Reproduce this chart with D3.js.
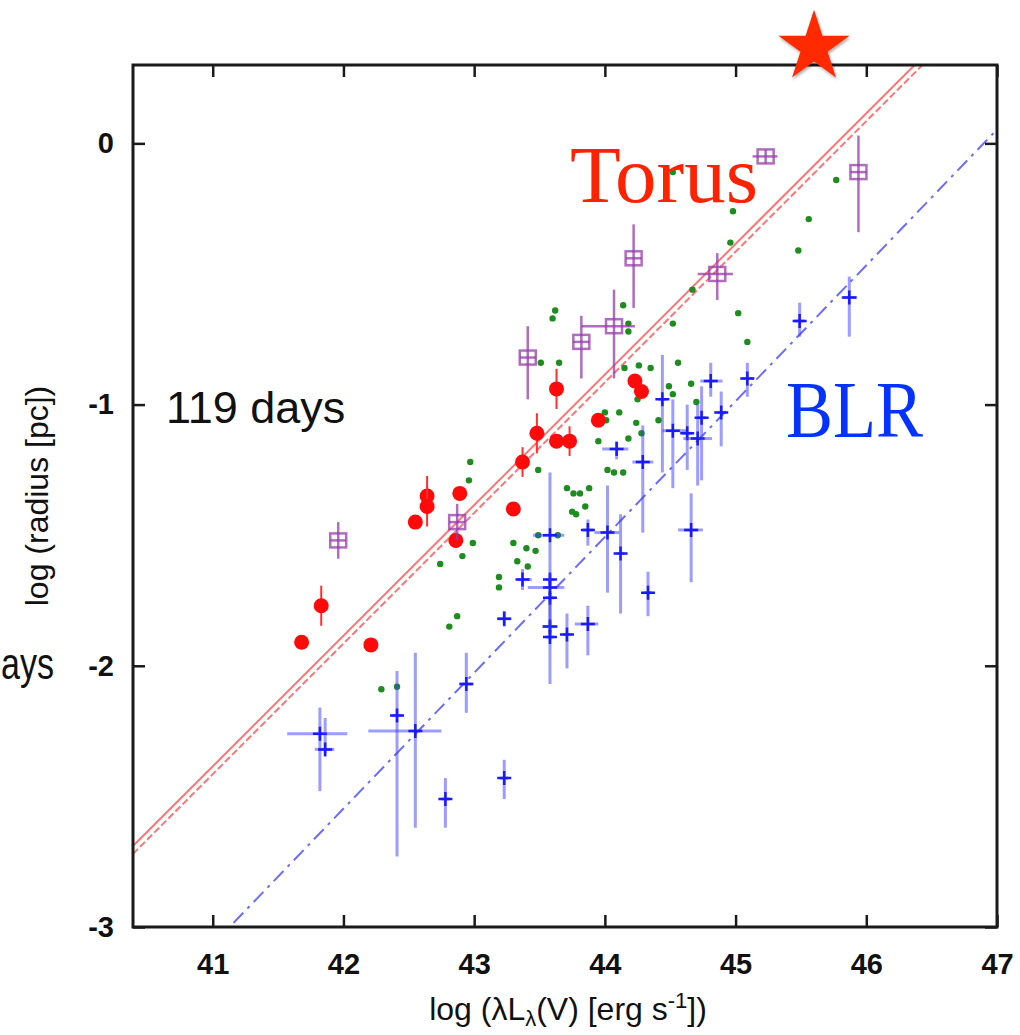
<!DOCTYPE html>
<html>
<head>
<meta charset="utf-8">
<script src="https://cdn.jsdelivr.net/npm/d3@7"></script>
<style>
  body { margin: 0; background: #fff; }
</style>
</head>
<body>
<div class="chart"></div>
<script>
// tick values
const xTicks = [41, 42, 43, 44, 45, 46, 47]
const yTicks = [0, -1, -2, -3]

// green dots: [log L, log R]
const dustDots = [
  [44.52, -0.11], [44.98, -0.26], [44.96, -0.38], [44.67, -0.56], [45.56, -0.29],
  [45.48, -0.41], [45.77, -0.14], [45.02, -0.65], [45.09, -0.76], [44.52, -0.69],
  [44.14, -0.62], [43.62, -0.64], [43.60, -0.67], [44.18, -0.69], [44.18, -0.72],
  [43.51, -0.84], [43.65, -0.84], [44.15, -0.86], [44.26, -0.85], [44.35, -0.86],
  [44.56, -0.84], [44.49, -0.93], [44.52, -0.96], [44.66, -0.92], [44.70, -0.99],
  [44.30, -0.96], [44.25, -0.98], [44.11, -1.03], [44.00, -1.03], [44.01, -1.06],
  [44.41, -1.06], [44.24, -1.07], [44.28, -1.11], [44.18, -1.13], [43.95, -1.14],
  [43.49, -1.25], [44.02, -1.25], [44.07, -1.26], [44.14, -1.26], [43.71, -1.32],
  [43.76, -1.34], [43.81, -1.34], [43.88, -1.32], [43.75, -1.41], [43.78, -1.42],
  [43.85, -1.39], [43.49, -1.50], [43.64, -1.50], [43.30, -1.53], [43.40, -1.55],
  [43.47, -1.56], [43.33, -1.60], [43.41, -1.62], [43.19, -1.66], [43.19, -1.70],
  [42.97, -1.22], [42.96, -1.29], [42.99, -1.53], [42.91, -1.58], [42.74, -1.61],
  [42.87, -1.81], [42.81, -1.85], [42.29, -2.09], [42.41, -2.08]
]

// red circles: [log L, log R, error]
const torusPts = [
  [41.68, -1.91, 0], [41.83, -1.77, 0.05], [42.21, -1.92, 0], [42.55, -1.45, 0],
  [42.64, -1.35, 0.05], [42.64, -1.39, 0.05], [42.89, -1.34, 0], [42.86, -1.52, 0],
  [43.30, -1.40, 0], [43.37, -1.22, 0.03], [43.48, -1.11, 0.05], [43.63, -1.14, 0],
  [43.73, -1.14, 0.03], [43.63, -0.94, 0.05], [43.95, -1.06, 0], [44.23, -0.91, 0],
  [44.28, -0.95, 0]
]

// purple squares: [log L, log R, xLo, xHi, yLo, yHi]
const torusNew = [
  [41.96, -1.52, 41.96, 41.96, -1.59, -1.45],
  [42.87, -1.45, 42.87, 42.87, -1.52, -1.38],
  [43.41, -0.82, 43.41, 43.41, -0.98, -0.70],
  [43.82, -0.76, 43.82, 43.82, -0.90, -0.66],
  [44.07, -0.70, 43.82, 44.23, -0.90, -0.56],
  [44.22, -0.44, 44.22, 44.22, -0.63, -0.31],
  [44.86, -0.50, 44.71, 44.98, -0.60, -0.42],
  [45.23, -0.05, 45.13, 45.32, -0.05, -0.05],
  [45.94, -0.11, 45.94, 45.94, -0.34, 0.03]
]

// blue crosses (BLR): [log L, log R, xLo, xHi, yLo, yHi]
const blrPts = [
  [41.82, -2.26, 41.57, 42.03, -2.48, -2.16],
  [41.86, -2.32, 41.78, 41.93, -2.34, -2.20],
  [42.41, -2.19, 42.37, 42.45, -2.73, -2.02],
  [42.55, -2.25, 42.19, 42.75, -2.62, -1.95],
  [42.78, -2.51, 42.75, 42.81, -2.62, -2.43],
  [42.94, -2.07, 42.89, 42.99, -2.18, -1.95],
  [43.23, -2.43, 43.20, 43.26, -2.51, -2.36],
  [43.23, -1.82, 43.18, 43.28, -1.85, -1.79],
  [43.37, -1.67, 43.33, 43.44, -1.71, -1.63],
  [43.58, -1.50, 43.45, 43.69, -1.60, -1.26],
  [43.58, -1.67, 43.55, 43.61, -1.69, -1.65],
  [43.58, -1.70, 43.41, 43.69, -1.90, -1.60],
  [43.58, -1.74, 43.55, 43.61, -1.76, -1.72],
  [43.58, -1.85, 43.52, 43.64, -1.87, -1.83],
  [43.58, -1.89, 43.55, 43.61, -2.07, -1.75],
  [43.87, -1.48, 43.83, 43.91, -1.54, -1.44],
  [44.02, -1.49, 43.92, 44.11, -1.72, -1.31],
  [44.12, -1.57, 44.09, 44.15, -1.80, -1.42],
  [43.87, -1.84, 43.77, 43.95, -1.96, -1.77],
  [43.71, -1.88, 43.68, 43.74, -2.01, -1.80],
  [44.33, -1.72, 44.30, 44.36, -1.81, -1.64],
  [44.66, -1.48, 44.56, 44.75, -1.68, -1.34],
  [44.29, -1.22, 44.21, 44.37, -1.49, -1.08],
  [44.09, -1.17, 43.98, 44.18, -1.21, -1.14],
  [44.44, -0.98, 44.41, 44.47, -1.26, -0.81],
  [44.52, -1.10, 44.44, 44.63, -1.32, -0.98],
  [44.63, -1.11, 44.59, 44.67, -1.25, -1.00],
  [44.71, -1.13, 44.60, 44.82, -1.31, -1.00],
  [44.74, -1.05, 44.71, 44.77, -1.29, -0.93],
  [44.81, -0.91, 44.73, 44.90, -0.97, -0.84],
  [44.89, -1.03, 44.86, 44.92, -1.16, -0.95],
  [45.09, -0.90, 45.04, 45.14, -0.97, -0.84],
  [45.49, -0.68, 45.45, 45.53, -0.74, -0.61],
  [45.87, -0.59, 45.81, 45.93, -0.74, -0.51]
]

// fits: [slope, log R at log L = 44]
const torusFit = [0.5, -0.885]
const torusFitDash = [0.5, -0.915]
const blrFit = [0.52, -1.507]

const width = 1020, height = 1035
const margin = { top: 65, right: 23, bottom: 108, left: 133 }
const sans = "'Liberation Sans', Arial, Helvetica, sans-serif"
const serif = "'Liberation Serif', 'Times New Roman', serif"

let svg = d3.select(".chart")
  .append("svg")
  .attr("width", width)
  .attr("height", height)
  .attr("font-family", sans)

let x = d3.scaleLinear().domain([40.39, 47]).range([margin.left, width - margin.right])
let y = d3.scaleLinear().domain([-3, 0.3]).range([height - margin.bottom, margin.top])

let defs = svg.append("defs")
defs.append("clipPath").attr("id", "plot-clip")
  .append("rect")
  .attr("x", margin.left).attr("y", margin.top)
  .attr("width", x.range()[1] - margin.left)
  .attr("height", y.range()[0] - margin.top)
let shadow = defs.append("filter").attr("id", "star-shadow")
  .attr("x", "-30%").attr("y", "-30%").attr("width", "160%").attr("height", "160%")
shadow.append("feDropShadow")
  .attr("dx", 1).attr("dy", 2).attr("stdDeviation", 1.5)
  .attr("flood-color", "#000").attr("flood-opacity", 0.35)

// fit lines
let fitLine = (f) => {
  let xs = x.domain()
  return d3.line()(xs.map(v => [x(v), y(f[1] + f[0] * (v - 44))]))
}
let lines = svg.append("g").attr("clip-path", "url(#plot-clip)")
lines.append("path")
  .attr("d", fitLine(torusFitDash))
  .attr("fill", "none")
  .attr("stroke", "rgba(255,70,70,0.75)")
  .attr("stroke-width", 2)
  .attr("stroke-dasharray", "7,3")
lines.append("path")
  .attr("d", fitLine(torusFit))
  .attr("fill", "none")
  .attr("stroke", "rgba(255,70,70,0.75)")
  .attr("stroke-width", 2)
lines.append("path")
  .attr("d", fitLine(blrFit))
  .attr("fill", "none")
  .attr("stroke", "rgba(70,70,255,0.8)")
  .attr("stroke-width", 2)
  .attr("stroke-dasharray", "14,6,3,6")

let marks = svg.append("g").attr("clip-path", "url(#plot-clip)")

// green dots
marks.append("g")
  .selectAll("circle")
  .data(dustDots)
  .enter()
  .append("circle")
  .attr("cx", d => x(d[0]))
  .attr("cy", d => y(d[1]))
  .attr("r", 3.2)
  .attr("fill", "#1e8c1e")

// blue crosses
let blr = marks.append("g")
blrPts.forEach(d => {
  let g = blr.append("g")
  g.append("line")
    .attr("x1", x(d[0])).attr("x2", x(d[0]))
    .attr("y1", y(d[4])).attr("y2", y(d[5]))
    .attr("stroke", "rgba(60,60,255,0.5)").attr("stroke-width", 3)
  g.append("line")
    .attr("x1", x(d[2])).attr("x2", x(d[3]))
    .attr("y1", y(d[1])).attr("y2", y(d[1]))
    .attr("stroke", "rgba(60,60,255,0.5)").attr("stroke-width", 3)
  g.append("path")
    .attr("d", `M${x(d[0]) - 7},${y(d[1])}H${x(d[0]) + 7}M${x(d[0])},${y(d[1]) - 7}V${y(d[1]) + 7}`)
    .attr("stroke", "#1a1aff").attr("stroke-width", 2.5)
})

// red circles
let torus = marks.append("g")
torusPts.forEach(d => {
  if (d[2] > 0) {
    torus.append("line")
      .attr("x1", x(d[0])).attr("x2", x(d[0]))
      .attr("y1", y(d[1] - d[2]) + 7).attr("y2", y(d[1] + d[2]) - 7)
      .attr("stroke", "#ff3030").attr("stroke-width", 2)
  }
  torus.append("circle")
    .attr("cx", x(d[0]))
    .attr("cy", y(d[1]))
    .attr("r", 7.5)
    .attr("fill", "#ff0a0a")
})

// purple squares
let sq = marks.append("g")
let purple = "rgba(150,60,170,0.75)"
torusNew.forEach(d => {
  let cx = x(d[0]), cy = y(d[1])
  sq.append("line")
    .attr("x1", cx).attr("x2", cx)
    .attr("y1", Math.max(y(d[4]), cy + 7)).attr("y2", Math.min(y(d[5]), cy - 7))
    .attr("stroke", purple).attr("stroke-width", 2.5)
  sq.append("line")
    .attr("x1", Math.min(x(d[2]), cx - 8)).attr("x2", Math.max(x(d[3]), cx + 8))
    .attr("y1", cy).attr("y2", cy)
    .attr("stroke", purple).attr("stroke-width", 2.5)
  sq.append("rect")
    .attr("x", cx - 8).attr("y", cy - 7)
    .attr("width", 16).attr("height", 14)
    .attr("fill", "none")
    .attr("stroke", purple).attr("stroke-width", 2.5)
})

// frame + inward ticks
let plotW = x.range()[1] - margin.left, plotH = y.range()[0] - margin.top
let axisStyle = (g) => {
  g.select(".domain").remove()
  g.selectAll(".tick line").attr("stroke", "#1a1a1a").attr("stroke-width", 2.5)
  g.selectAll(".tick text")
    .attr("fill", "#111")
    .attr("font-size", 29)
    .attr("font-weight", "bold")
    .attr("font-family", sans)
}
svg.append("g")
  .attr("transform", `translate(0,${y.range()[0]})`)
  .call(d3.axisBottom(x).tickValues(xTicks).tickSize(-12).tickPadding(26).tickFormat(d => d))
  .call(axisStyle)
svg.append("g")
  .attr("transform", `translate(0,${margin.top})`)
  .call(d3.axisTop(x).tickValues(xTicks).tickSize(-12).tickFormat(""))
  .call(axisStyle)
svg.append("g")
  .attr("transform", `translate(${margin.left},0)`)
  .call(d3.axisLeft(y).tickValues(yTicks).tickSize(-12).tickPadding(19).tickFormat(d => String(d)))
  .call(axisStyle)
svg.append("g")
  .attr("transform", `translate(${x.range()[1]},0)`)
  .call(d3.axisRight(y).tickValues(yTicks).tickSize(-12).tickFormat(""))
  .call(axisStyle)
svg.append("rect")
  .attr("x", margin.left).attr("y", margin.top)
  .attr("width", plotW).attr("height", plotH)
  .attr("fill", "none")
  .attr("stroke", "#1a1a1a")
  .attr("stroke-width", 3)

// axis titles
let xTitle = svg.append("text")
  .attr("x", 568).attr("y", 1020)
  .attr("text-anchor", "middle")
  .attr("font-size", 32)
  .attr("fill", "#111")
xTitle.append("tspan").text("log (λL")
xTitle.append("tspan").attr("dy", 6).attr("font-size", 22).text("λ")
xTitle.append("tspan").attr("dy", -6).text("(V) [erg s")
xTitle.append("tspan").attr("dy", -12).attr("font-size", 22).text("-1")
xTitle.append("tspan").attr("dy", 12).text("])")

svg.append("text")
  .attr("transform", "translate(48,496) rotate(-90)")
  .attr("text-anchor", "middle")
  .attr("font-size", 32)
  .attr("fill", "#111")
  .text("log (radius [pc])")

// annotations
svg.append("text")
  .attr("x", 570).attr("y", 202)
  .attr("font-family", serif)
  .attr("font-size", 81)
  .attr("fill", "#ff2200")
  .attr("textLength", 188).attr("lengthAdjust", "spacingAndGlyphs")
  .text("Torus")
svg.append("text")
  .attr("x", 786).attr("y", 437)
  .attr("font-family", serif)
  .attr("font-size", 81)
  .attr("fill", "#0433ff")
  .attr("textLength", 137).attr("lengthAdjust", "spacingAndGlyphs")
  .text("BLR")
svg.append("text")
  .attr("x", 166).attr("y", 423)
  .attr("font-size", 45)
  .attr("fill", "#111")
  .text("119 days")
svg.append("text")
  .attr("x", 1).attr("y", 679)
  .attr("font-size", 44)
  .attr("fill", "#111")
  .attr("textLength", 53).attr("lengthAdjust", "spacingAndGlyphs")
  .text("ays")

// red star above the frame
svg.append("path")
  .attr("d", d3.symbol(d3.symbolStar).size(1570)())
  .attr("transform", `translate(${x(45.6)},${y(0.368)})`)
  .attr("fill", "#ff2a00")
  .attr("filter", "url(#star-shadow)")
</script>
</body>
</html>
